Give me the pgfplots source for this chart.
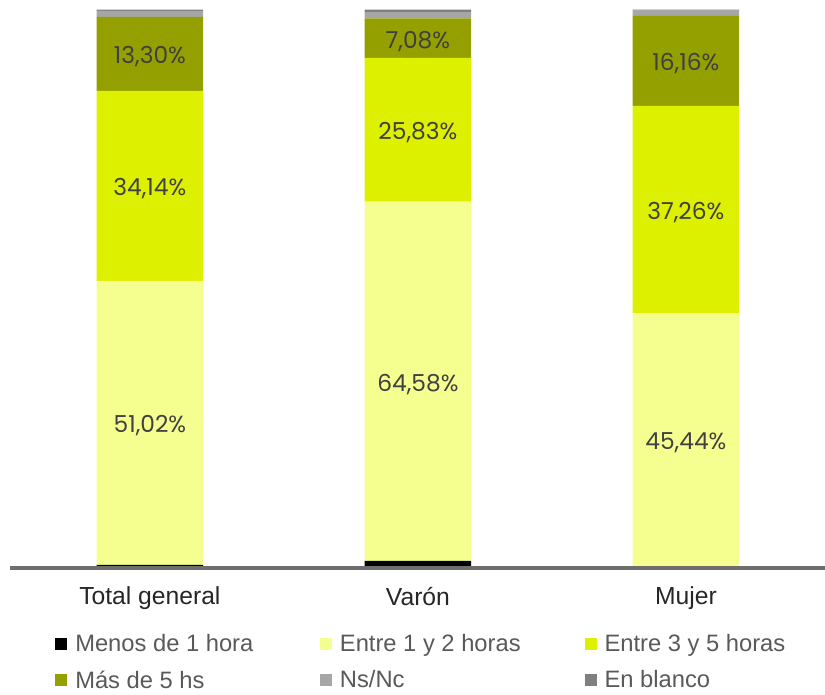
\documentclass[border=0pt]{standalone}
\usepackage{pgfplots}
\pgfplotsset{compat=1.18}
\usepackage{fontspec}
\setmainfont{Liberation Sans}
\newfontfamily\lblfont{Poppins}
\definecolor{c1}{HTML}{000000}
\definecolor{c2}{HTML}{F5FF8F}
\definecolor{c3}{HTML}{DDF000}
\definecolor{c4}{HTML}{94A000}
\definecolor{c5}{HTML}{A6A6A6}
\definecolor{c6}{HTML}{7F7F7F}
\definecolor{axisgray}{HTML}{6E6E6E}
\definecolor{lbltext}{HTML}{404040}
\definecolor{legtext}{HTML}{595959}
\definecolor{ticktext}{HTML}{262626}
\newcommand{\legent}[1]{\makebox[170pt][l]{#1\strut}}
\newcommand{\legentb}[1]{\makebox[170pt][l]{#1\rule{0pt}{12.46pt}}}
\tikzset{lbl/.style={font=\lblfont\fontsize{17.5}{17.5}\selectfont, text=lbltext, yshift=-2.3pt}}
\begin{document}
\begin{tikzpicture}
\begin{axis}[
  scale only axis, width=611.25pt, height=419pt,
  at={(0,0)}, anchor=south west,
  xmin=-0.522, xmax=2.519, ymin=-0.4, ymax=100,
  ybar stacked, bar width=80pt,
  axis y line=none, axis x line*=bottom,
  x axis line style={-, line width=2.6pt, color=axisgray},
  xtick={0,1,2}, xticklabels={Total general, Varón, Mujer},
  major tick length=0pt,
  xticklabel style={font=\fontsize{18.5}{18.5}\selectfont, text=ticktext, yshift=-10.6pt},
  legend image code/.code={\fill[#1] (0pt,-4.5pt) rectangle (9pt,4.5pt);},
  legend columns=3,
  legend style={at={(axis description cs:0.0552,-0.1126)}, anchor=north west,
    draw=none, fill=none, inner sep=0pt,
    font=\fontsize{17.8}{17.8}\selectfont, text=legtext,
    /tikz/every odd column/.append style={column sep=4pt},
    /tikz/every even column/.append style={column sep=11.5pt},
    row sep=9pt},
  clip=false,
]
\addplot[fill=c1, draw=none] coordinates {(0,0.2) (1,0.9) (2,0)};
\addplot[fill=c2, draw=none] coordinates {(0,51.02) (1,64.58) (2,45.44)};
\addplot[fill=c3, draw=none] coordinates {(0,34.14) (1,25.83) (2,37.26)};
\addplot[fill=c4, draw=none] coordinates {(0,13.30) (1,7.08) (2,16.16)};
\addplot[fill=c5, draw=none] coordinates {(0,1.10) (1,1.15) (2,0.95)};
\addplot[fill=c6, draw=none] coordinates {(0,0.24) (1,0.46) (2,0.19)};
\addlegendentry{\legent{Menos de 1 hora}}
\addlegendentry{\legent{Entre 1 y 2 horas}}
\addlegendentry{\legent{Entre 3 y 5 horas}}
\addlegendentry{\legentb{Más de 5 hs}}
\addlegendentry{\legentb{Ns/Nc}}
\addlegendentry{\legentb{En blanco}}
\coordinate (a1) at (axis cs:0,25.71);
\coordinate (a2) at (axis cs:0,68.29);
\coordinate (a3) at (axis cs:0,92.01);
\coordinate (b1) at (axis cs:1,33.19);
\coordinate (b2) at (axis cs:1,78.40);
\coordinate (b3) at (axis cs:1,94.85);
\coordinate (m1) at (axis cs:2,22.72);
\coordinate (m2) at (axis cs:2,64.07);
\coordinate (m3) at (axis cs:2,90.78);
\end{axis}
\node[lbl] at (a1) {51,02\%};
\node[lbl] at (a2) {34,14\%};
\node[lbl] at (a3) {13,30\%};
\node[lbl] at (b1) {64,58\%};
\node[lbl] at (b2) {25,83\%};
\node[lbl] at (b3) {7,08\%};
\node[lbl] at (m1) {45,44\%};
\node[lbl] at (m2) {37,26\%};
\node[lbl] at (m3) {16,16\%};
\pgfresetboundingbox
\path[use as bounding box] (-7.5pt,-95.1pt) rectangle (611.25pt,426.15pt);
\end{tikzpicture}
\end{document}
